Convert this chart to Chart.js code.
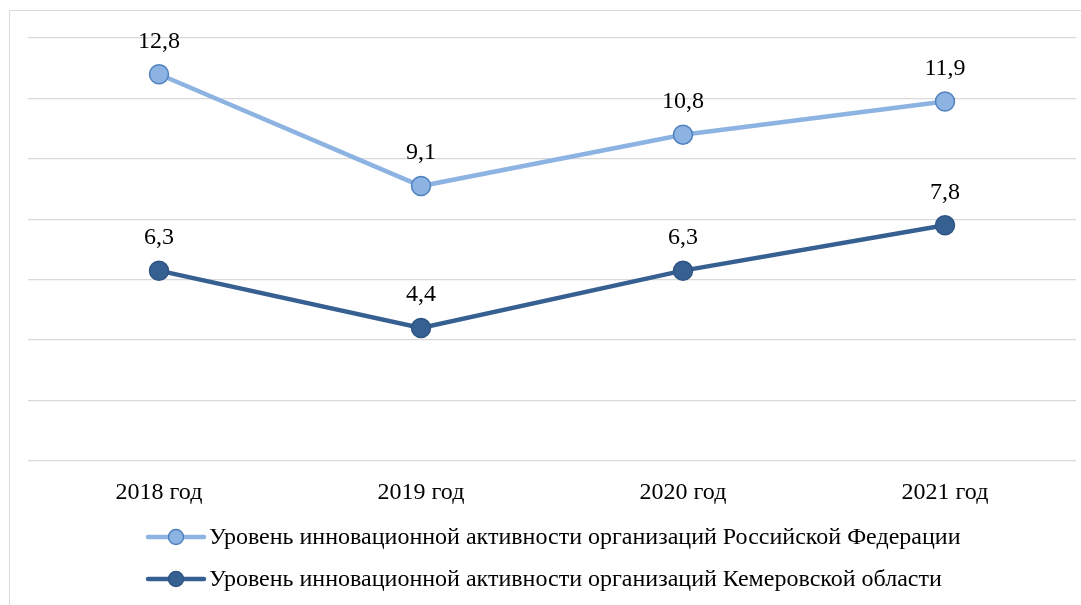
<!DOCTYPE html>
<html>
<head>
<meta charset="utf-8">
<script src="https://cdn.jsdelivr.net/npm/chart.js@4/dist/chart.umd.min.js"></script>
<style>
  html, body { margin: 0; padding: 0; background: #fff; }
  #wrap { width: 1081px; height: 605px; }
</style>
</head>
<body>
<div id="wrap"><canvas id="chart" width="1081" height="605"></canvas></div>
<script>
const years = ['2018 год', '2019 год', '2020 год', '2021 год'];
const russia = [12.8, 9.1, 10.8, 11.9];
const kemerovo = [6.3, 4.4, 6.3, 7.8];
const russiaLabel = 'Уровень инновационной активности организаций Российской Федерации';
const kemerovoLabel = 'Уровень инновационной активности организаций Кемеровской области';

const FONT = '"Liberation Serif", "Times New Roman", serif';
const fmt = (v) => String(v).replace('.', ',');

// frame around the whole chart
const framePlugin = {
  id: 'frame',
  beforeDraw(chart) {
    const c = chart.ctx;
    c.save();
    c.strokeStyle = '#d9d9d9';
    c.lineWidth = 1;
    c.strokeRect(9.5, 10.5, 1200, 800);
    c.restore();
  }
};

// value labels above each point
const valueLabels = {
  id: 'valueLabels',
  afterDatasetsDraw(chart) {
    const c = chart.ctx;
    c.save();
    c.font = '24px ' + FONT;
    c.fillStyle = '#000';
    c.textAlign = 'center';
    c.textBaseline = 'middle';
    chart.data.datasets.forEach((ds, i) => {
      chart.getDatasetMeta(i).data.forEach((pt, j) => {
        c.fillText(fmt(ds.data[j]), pt.x, pt.y - 33);
      });
    });
    c.restore();
  }
};

// stacked legend under the axis: line + circle marker, then text
const stackedLegend = {
  id: 'stackedLegend',
  afterDraw(chart) {
    const c = chart.ctx;
    const x0 = 148, rows = [537, 579];
    c.save();
    c.font = '24px ' + FONT;
    c.textBaseline = 'middle';
    c.textAlign = 'left';
    chart.data.datasets.forEach((ds, i) => {
      const y = rows[i];
      c.strokeStyle = ds.borderColor;
      c.lineWidth = 4.5;
      c.lineCap = 'round';
      c.beginPath();
      c.moveTo(x0, y);
      c.lineTo(x0 + 56, y);
      c.stroke();
      c.beginPath();
      c.arc(x0 + 28, y, 7.5, 0, Math.PI * 2);
      c.fillStyle = ds.pointBackgroundColor;
      c.fill();
      c.lineWidth = 1.5;
      c.strokeStyle = ds.pointBorderColor;
      c.stroke();
      c.fillStyle = '#000';
      c.fillText(ds.label, x0 + 61, y + 1);
    });
    c.restore();
  }
};

new Chart(document.getElementById('chart'), {
  type: 'line',
  data: {
    labels: years,
    datasets: [
      {
        label: russiaLabel,
        data: russia,
        borderColor: '#8db3e2',
        borderWidth: 4.5,
        pointRadius: 9.5,
        pointHoverRadius: 9.5,
        pointBackgroundColor: '#8db3e2',
        pointBorderColor: '#4f81bd',
        pointBorderWidth: 1.5,
        tension: 0
      },
      {
        label: kemerovoLabel,
        data: kemerovo,
        borderColor: '#376092',
        borderWidth: 4.5,
        pointRadius: 9.5,
        pointHoverRadius: 9.5,
        pointBackgroundColor: '#376092',
        pointBorderColor: '#2f5585',
        pointBorderWidth: 1.5,
        tension: 0
      }
    ]
  },
  options: {
    responsive: false,
    animation: false,
    layout: { autoPadding: false, padding: { left: 28, right: 5, top: 38, bottom: 0 } },
    plugins: {
      legend: { display: false },
      tooltip: { enabled: false }
    },
    scales: {
      x: {
        offset: true,
        grid: { display: false, drawTicks: false },
        border: { display: false },
        ticks: { color: '#000', font: { family: FONT, size: 24 }, padding: 17 },
        afterFit(scale) {
          scale.height = 144;
          scale.paddingLeft = 0;
          scale.paddingRight = 0;
        }
      },
      y: {
        min: 0,
        max: 14,
        ticks: { stepSize: 2, display: false },
        grid: { color: '#d9d9d9', lineWidth: 1.3, drawTicks: false },
        border: { display: false },
        afterFit(scale) { scale.width = 0; }
      }
    }
  },
  plugins: [framePlugin, valueLabels, stackedLegend]
});
</script>
</body>
</html>
